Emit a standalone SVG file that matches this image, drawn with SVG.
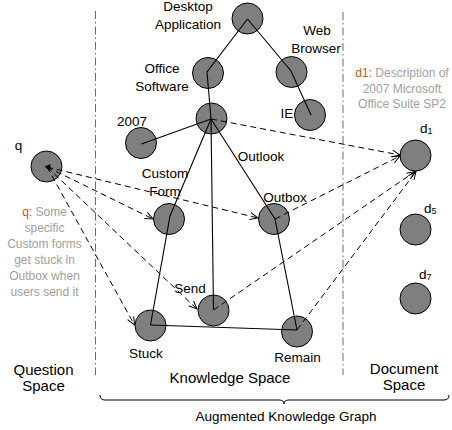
<svg xmlns="http://www.w3.org/2000/svg" width="452" height="430" viewBox="0 0 452 430">
<defs>
<marker id="arr" markerUnits="userSpaceOnUse" markerWidth="12" markerHeight="10" refX="9" refY="4" orient="auto">
<path d="M1,0.5 L9,4 L1,7.5" fill="none" stroke="#000" stroke-width="1"/>
</marker>
</defs>
<style>
.n{fill:#7f7f7f;stroke:#000;stroke-width:1}
.t{font-family:"Liberation Sans",Arial,sans-serif;font-size:13.5px;fill:#000;text-anchor:middle}
.big{font-size:15px}
.g{font-family:"Liberation Sans",Arial,sans-serif;font-size:12px;fill:#a0a0a0;text-anchor:middle}
.o{fill:#c55a11}
.s{fill:none;stroke:#000;stroke-width:1.1}
.d{fill:none;stroke:#000;stroke-width:1;stroke-dasharray:6 4;marker-end:url(#arr)}
.div{fill:none;stroke:#444;stroke-width:0.8;stroke-dasharray:8 3 1.5 3}
</style>
<rect width="452" height="430" fill="#fff"/>

<g id="dividers">
<line class="div" x1="95.5" y1="11" x2="95.5" y2="375"/>
<line class="div" x1="343" y1="12" x2="343" y2="375"/>
</g>

<g id="node-desktop"><circle class="n" cx="247.5" cy="18.5" r="15.5"/><text class="t" x="188" y="11">Desktop</text><text class="t" x="188" y="29">Application</text></g>
<g id="node-office"><circle class="n" cx="208" cy="73" r="15.5"/><text class="t" x="162" y="73">Office</text><text class="t" x="162" y="91">Software</text></g>
<g id="node-web"><circle class="n" cx="291.5" cy="72" r="15.5"/><text class="t" x="317" y="35">Web</text><text class="t" x="316" y="53">Browser</text></g>
<g id="node-ie"><circle class="n" cx="310" cy="115" r="15.5"/><text class="t" x="287" y="118">IE</text></g>
<g id="node-hub"><circle class="n" cx="211.5" cy="118.5" r="15.5"/></g>
<g id="node-2007"><circle class="n" cx="141" cy="143" r="15.5"/><text class="t" x="132" y="126">2007</text></g>
<g id="node-customform"><circle class="n" cx="169" cy="219" r="15.5"/><text class="t" x="165" y="178">Custom</text><text class="t" x="165" y="196">Form</text></g>
<g id="node-outlook"><text class="t" x="261" y="161">Outlook</text></g>
<g id="node-outbox"><circle class="n" cx="274" cy="219" r="15.5"/><text class="t" x="285" y="202">Outbox</text></g>
<g id="node-send"><circle class="n" cx="213.5" cy="310.5" r="15.5"/><text class="t" x="190" y="293">Send</text></g>
<g id="node-stuck"><circle class="n" cx="150.5" cy="325.5" r="15.5"/><text class="t" x="146" y="358">Stuck</text></g>
<g id="node-remain"><circle class="n" cx="297" cy="331.5" r="15.5"/><text class="t" x="297.5" y="362">Remain</text></g>
<g id="node-q"><circle class="n" cx="46.5" cy="166.5" r="15.5"/><polygon points="44.5,166.5 50.5,164 50,171" fill="#000"/><text class="t" x="18.5" y="150">q</text>
<text class="g" x="44.5" y="216"><tspan class="o">q:</tspan> Some</text>
<text class="g" x="44.5" y="232">specific</text>
<text class="g" x="44.5" y="248">Custom forms</text>
<text class="g" x="44.5" y="264">get stuck in</text>
<text class="g" x="44.5" y="280">Outbox when</text>
<text class="g" x="44.5" y="296">users send it</text>
</g>
<g id="node-d1"><circle class="n" cx="415.5" cy="155.5" r="15.5"/><text class="t" x="420" y="133" text-anchor="start" style="text-anchor:start">d<tspan font-size="9" dy="1">1</tspan></text>
<text class="g" x="402" y="77"><tspan class="o">d1:</tspan> Description of</text>
<text class="g" x="402" y="93">2007 Microsoft</text>
<text class="g" x="402" y="108">Office Suite SP2</text>
</g>
<g id="node-d5"><circle class="n" cx="415.5" cy="229.5" r="15.5"/><text class="t" style="text-anchor:start" x="424" y="213">d<tspan font-size="9" dy="1">5</tspan></text></g>
<g id="node-d7"><circle class="n" cx="415.5" cy="298.5" r="15.5"/><text class="t" style="text-anchor:start" x="419" y="279">d<tspan font-size="9" dy="1">7</tspan></text></g>

<g id="connectors">
<polyline class="s" points="247.5,19 207,72 211,119"/>
<polyline class="s" points="247.5,19 291,71 311,115"/>
<line class="s" x1="211" y1="119" x2="141.5" y2="144"/>
<polyline class="s" points="211,119 170,216 150.5,325"/>
<line class="s" x1="211" y1="119" x2="213.5" y2="310"/>
<polyline class="s" points="211,119 275,219 297,330"/>
<line class="s" x1="150.5" y1="325" x2="297" y2="330"/>
<line class="d" x1="47" y1="167" x2="258" y2="218"/>
<line class="d" x1="47" y1="167" x2="153" y2="219"/>
<line class="d" x1="47" y1="167" x2="197" y2="309"/>
<line class="d" x1="47" y1="167" x2="134.5" y2="325"/>
<line class="d" x1="211" y1="119" x2="400" y2="155"/>
<line class="d" x1="275" y1="219" x2="400" y2="156"/>
<line class="d" x1="213.5" y1="310" x2="415" y2="171.5"/>
<line class="d" x1="297" y1="330" x2="416" y2="171.5"/>
</g>

<g id="space-labels">
<text class="t big" x="43.5" y="375">Question</text>
<text class="t big" x="43.5" y="391">Space</text>
<text class="t big" x="230" y="383">Knowledge Space</text>
<text class="t big" x="404" y="374">Document</text>
<text class="t big" x="404" y="390">Space</text>
</g>
<g id="brace">
<path d="M100,395 Q100,400 105,400 L279,400 Q284,400 284,404 Q284,400 289,400 L444,400 Q449,400 449,395" fill="none" stroke="#000" stroke-width="1"/>
<text class="t" x="286" y="421">Augmented Knowledge Graph</text>
</g>
</svg>
